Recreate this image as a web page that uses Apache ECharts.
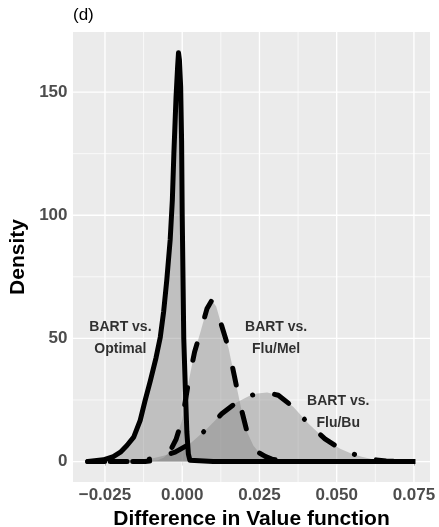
<!DOCTYPE html>
<html>
<head>
<meta charset="utf-8">
<script src="https://cdn.jsdelivr.net/npm/echarts@6/dist/echarts.min.js"></script>
<style>
  html, body { margin: 0; padding: 0; background: #fff; }
  #main { width: 439px; height: 527px; }
</style>
</head>
<body>
<div id="main"></div>
<script>
// density curves
var optX = [-0.0306, -0.0298, -0.0255, -0.0223, -0.020, -0.0179, -0.0157, -0.0136, -0.012, -0.0103, -0.0085,
            -0.0071, -0.006, -0.005, -0.0039, -0.0032, -0.0027, -0.0020, -0.0015, -0.0012, -0.0009, -0.0005,
            -0.0002, 0.0000, 0.0003, 0.0005, 0.0010, 0.0015, 0.0020, 0.0025, 0.0030, 0.0100, 0.0400, 0.0755];
var optY = [0, 0.1, 0.7, 2, 3.8, 6.5, 9.9, 16.7, 24.8, 32.9, 42,
            50.5, 61, 73.6, 90, 106, 125, 148, 160, 166, 163, 152,
            130, 100, 70, 50, 30, 12, 3, 0.5, 0, 0, 0, 0];

var melX = [-0.0306, -0.012, -0.008, -0.006, -0.004, -0.002, 0.000, 0.002, 0.004, 0.006, 0.008, 0.0096,
            0.011, 0.0128, 0.015, 0.017, 0.019, 0.021, 0.023, 0.025, 0.027, 0.029, 0.032, 0.036, 0.0755];
var melY = [0, 0, 0.5, 1.5, 4, 9, 17, 32, 44.5, 53, 62, 65.5,
            63, 55, 46, 34, 22, 12, 6.5, 3.5, 2, 1, 0.3, 0, 0];

var buX = [-0.0306, -0.016, -0.013, -0.0098, -0.006, -0.0023, 0.0026, 0.008, 0.0128, 0.0177, 0.0215, 0.0242,
           0.0275, 0.0311, 0.036, 0.0409, 0.0462, 0.0511, 0.0545, 0.0581, 0.062, 0.066, 0.070, 0.0755];
var buY = [0, 0, 0.4, 1.2, 2.4, 3.8, 7.3, 13.3, 19.4, 24.1, 26.5, 27.6,
           28, 26.9, 22.1, 15.3, 9.2, 5.2, 3.4, 2, 0.8, 0.2, 0, 0];

var xTicks = [-0.025, 0, 0.025, 0.05, 0.075];
var xTickLabels = ['\u22120.025', '0.000', '0.025', '0.050', '0.075'];
var xMinor = [-0.0125, 0.0125, 0.0375, 0.0625];
var yTicks = [0, 50, 100, 150];
var yMinor = [25, 75, 125];

var labelX = [-0.0200, 0.0304, 0.0505];
var labelY = [50, 50, 20];
var labelText = ['BART vs.\nOptimal', 'BART vs.\nFlu/Mel', 'BART vs.\nFlu/Bu'];

function zip(xs, ys) {
    return xs.map(function (x, i) { return [x, ys[i]]; });
}

var font = 'Liberation Sans, Arial, sans-serif';
var fillColor = 'rgba(127,127,127,0.4)';

// gridlines: [value, 0 = vertical / 1 = horizontal, width]
var gridLines = [];
xTicks.forEach(function (v) { gridLines.push([v, 0, 1.3]); });
xMinor.forEach(function (v) { gridLines.push([v, 0, 0.7]); });
yTicks.forEach(function (v) { gridLines.push([v, 1, 1.3]); });
yMinor.forEach(function (v) { gridLines.push([v, 1, 0.7]); });

var curves = [
    { name: 'Optimal', data: zip(optX, optY), type: 'solid', cap: 'butt' },
    { name: 'Flu/Mel', data: zip(melX, melY), type: [17, 28], cap: 'round' },
    { name: 'Flu/Bu', data: zip(buX, buY), type: [0.1, 22.4, 17, 22.4], cap: 'round' }
];

var series = [{
    type: 'custom',
    z: 1,
    silent: true,
    data: gridLines,
    encode: { x: -1, y: -1 },
    renderItem: function (params, api) {
        var v = api.value(0), dir = api.value(1), w = api.value(2);
        var cs = params.coordSys;
        var shape;
        if (dir === 0) {
            var px = api.coord([v, 0])[0];
            shape = { x1: px, y1: cs.y, x2: px, y2: cs.y + cs.height };
        } else {
            var py = api.coord([0, v])[1];
            shape = { x1: cs.x, y1: py, x2: cs.x + cs.width, y2: py };
        }
        return { type: 'line', shape: shape, style: { stroke: '#ffffff', lineWidth: w } };
    }
}];

curves.forEach(function (c) {
    series.push({
        name: c.name + ' fill',
        type: 'line',
        data: c.data,
        z: 2,
        showSymbol: false,
        symbol: 'none',
        lineStyle: { width: 0 },
        areaStyle: { color: fillColor, opacity: 1 }
    });
});
curves.slice().reverse().forEach(function (c) {
    series.push({
        name: c.name,
        type: 'line',
        data: c.data,
        z: 3,
        showSymbol: false,
        symbol: 'none',
        lineStyle: { color: '#000000', width: 5, type: c.type, cap: c.cap, join: 'round' }
    });
});

series.push({
    type: 'scatter',
    z: 4,
    symbolSize: 1,
    itemStyle: { color: 'rgba(0,0,0,0)' },
    data: labelX.map(function (x, i) { return [x, labelY[i], labelText[i]]; }),
    label: {
        show: true,
        position: 'inside',
        formatter: function (p) { return p.value[2]; },
        fontFamily: font,
        fontWeight: 'bold',
        fontSize: 14,
        lineHeight: 22,
        color: '#000000',
        textBorderWidth: 0,
        align: 'center'
    }
});

var myChart = echarts.init(document.getElementById('main'));
var option = {
    animation: false,
    title: {
        text: '(d)',
        left: 73,
        top: 7,
        padding: 0,
        textStyle: { fontFamily: font, fontWeight: 'normal', fontSize: 17, color: '#000000' }
    },
    grid: {
        left: 73,
        right: 9,
        top: 32,
        bottom: 45,
        containLabel: false,
        outerBoundsMode: 'none',
        show: true,
        backgroundColor: '#EBEBEB',
        borderWidth: 0
    },
    xAxis: {
        type: 'value',
        min: -0.03535,
        max: 0.0802,
        name: 'Difference in Value function',
        nameLocation: 'middle',
        nameGap: 25,
        nameTextStyle: { fontFamily: font, fontWeight: 'bold', fontSize: 21, color: '#000000' },
        axisLine: { show: false },
        splitLine: { show: false },
        axisTick: { show: true, length: 4, customValues: xTicks, lineStyle: { color: '#333333', width: 1 } },
        axisLabel: {
            customValues: xTicks,
            margin: 4.5,
            fontFamily: font,
            fontWeight: 'bold',
            fontSize: 17,
            color: '#4D4D4D',
            formatter: function (v) {
                var i = xTicks.findIndex(function (t) { return Math.abs(t - v) < 1e-9; });
                return i >= 0 ? xTickLabels[i] : '';
            }
        }
    },
    yAxis: {
        type: 'value',
        min: -8.3,
        max: 174.4,
        name: 'Density',
        nameLocation: 'middle',
        nameGap: 44.5,
        nameTextStyle: { fontFamily: font, fontWeight: 'bold', fontSize: 21, color: '#000000' },
        axisLine: { show: false },
        splitLine: { show: false },
        axisTick: { show: true, length: 4, customValues: yTicks, lineStyle: { color: '#333333', width: 1 } },
        axisLabel: {
            customValues: yTicks,
            margin: 5.5,
            fontFamily: font,
            fontWeight: 'bold',
            fontSize: 17,
            color: '#4D4D4D'
        }
    },
    series: series
};
myChart.setOption(option);
</script>
</body>
</html>
